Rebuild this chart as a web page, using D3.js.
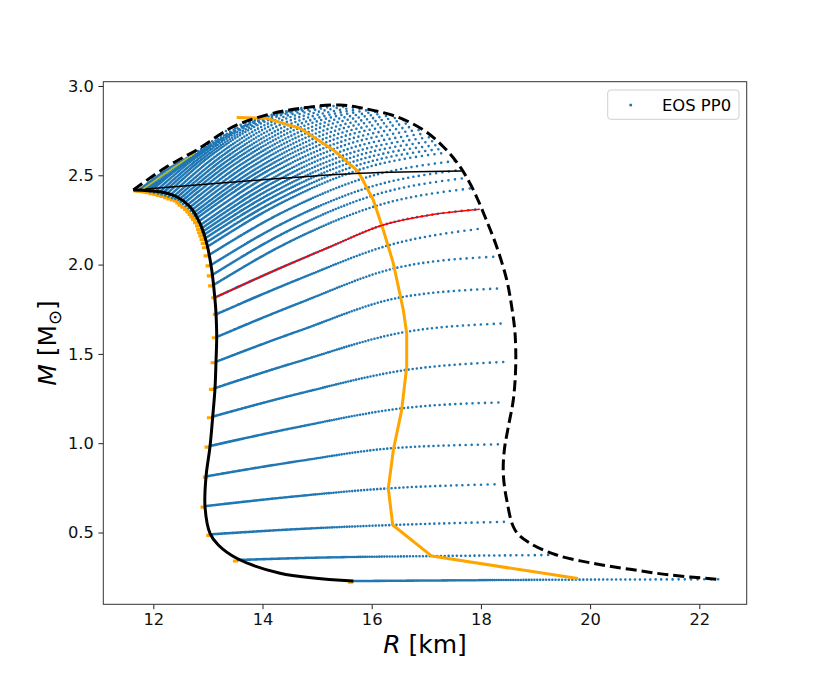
<!DOCTYPE html>
<html>
<head>
<meta charset="utf-8">
<script src="https://cdn.jsdelivr.net/npm/d3@7"></script>
<style>
  body { margin: 0; background: #fff; }
  svg { display: block; }
</style>
</head>
<body>
<div id="chart"></div>
<script>
// Non-rotating sequence (solid black), R [km] and M [Msun]
const nonRotR = [15.663, 14.321, 13.527, 13.190, 13.038, 12.947, 12.965, 13.038, 13.088, 13.130, 13.148, 13.161,
                 13.148, 13.130, 13.070, 12.978, 12.855, 12.672, 12.429, 12.123, 11.634];
const nonRotM = [0.228, 0.272, 0.356, 0.430, 0.495, 0.644, 0.812, 0.980, 1.148, 1.307, 1.456, 1.596,
                 1.727, 1.802, 1.970, 2.119, 2.231, 2.324, 2.380, 2.408, 2.418];

// Mass-shedding (Kepler) limit, dashed black
const keplerR = [11.634, 12.245, 12.795, 13.465, 14.077, 14.687, 15.419, 15.846, 16.458, 16.945, 17.311, 17.617,
                 17.861, 18.075, 18.289, 18.473, 18.564, 18.625, 18.637, 18.593, 18.502, 18.429, 18.410, 18.473,
                 18.625, 18.899, 19.388, 20.059, 20.731, 21.463, 22.348];
const keplerM = [2.418, 2.548, 2.642, 2.772, 2.838, 2.875, 2.894, 2.875, 2.828, 2.754, 2.660, 2.548,
                 2.418, 2.268, 2.100, 1.914, 1.764, 1.615, 1.428, 1.242, 1.092, 0.962, 0.831, 0.682,
                 0.514, 0.440, 0.374, 0.327, 0.294, 0.262, 0.238];

// Orange curve
const orangeR = [13.527, 14.077, 14.687, 15.297, 15.755, 16.029, 16.212, 16.396, 16.579, 16.641, 16.641, 16.549,
                 16.396, 16.304, 16.385, 17.099, 19.778];
const orangeM = [2.823, 2.819, 2.763, 2.642, 2.520, 2.362, 2.194, 2.007, 1.746, 1.615, 1.428, 1.186,
                 0.962, 0.747, 0.542, 0.368, 0.242];

// Red highlighted sequence
const redR = [13.16, 14.38, 15.24, 16.21, 17.07, 17.98];
const redM = [1.82, 1.988, 2.10, 2.222, 2.278, 2.31];

// Thin black line
const thinR = [11.634, 14.226, 15.786, 17.648];
const thinM = [2.418, 2.480, 2.511, 2.524];

// Olive line
const oliveR = [11.788, 12.764];
const oliveM = [2.418, 2.625];

// Rotating sequences (EOS PP0), one row per sequence
const seqR = [
  [15.663, 17.43, 19.78, 22.348],
  [13.557, 14.687, 17.099, 19.388],
  [13.07, 14.687, 16.385, 18.473],
  [12.965, 14.687, 16.304, 18.319],
  [13.007, 14.687, 16.425, 18.381],
  [13.038, 14.687, 16.549, 18.441],
  [13.081, 14.687, 16.628, 18.533],
  [13.117, 14.687, 16.641, 18.473],
  [13.148, 14.687, 16.573, 18.410],
  [13.172, 14.687, 16.445, 18.227],
  [13.19, 14.687, 16.335, 18.044],
  [13.16, 14.38, 15.24, 16.21, 17.07, 17.98],
  [13.103, 14.522, 16.176, 17.831],
  [13.079, 14.473, 16.101, 17.727],
  [13.057, 14.430, 16.033, 17.636],
  [13.020, 14.372, 15.949, 17.526],
  [12.989, 14.311, 15.855, 17.397],
  [12.968, 14.275, 15.800, 17.324],
  [12.947, 14.238, 15.745, 17.251],
  [12.924, 14.198, 15.683, 17.169],
  [12.901, 14.158, 15.621, 17.086],
  [12.883, 14.118, 15.555, 16.995],
  [12.864, 14.077, 15.489, 16.903],
  [12.828, 14.021, 15.411, 16.802],
  [12.791, 13.965, 15.333, 16.701],
  [12.759, 13.909, 15.251, 16.592],
  [12.727, 13.853, 15.168, 16.482],
  [12.686, 13.789, 15.076, 16.363],
  [12.645, 13.725, 14.984, 16.244],
  [12.595, 13.651, 14.883, 16.116],
  [12.544, 13.577, 14.782, 15.987],
  [12.503, 13.508, 14.679, 15.850],
  [12.462, 13.438, 14.575, 15.712],
  [12.402, 13.352, 14.459, 15.566],
  [12.342, 13.266, 14.343, 15.419],
  [12.278, 13.172, 14.214, 15.255],
  [12.214, 13.077, 14.084, 15.090],
  [12.150, 12.977, 13.942, 14.907],
  [12.086, 12.877, 13.800, 14.723],
  [12.013, 12.766, 13.644, 14.522],
  [11.940, 12.654, 13.487, 14.321],
  [11.885, 12.547, 13.320, 14.092],
  [11.830, 12.440, 13.152, 13.863],
  [11.784, 12.339, 12.987, 13.634],
  [11.738, 12.238, 12.822, 13.405]
];
const seqM = [
  [0.228, 0.232, 0.236, 0.238],
  [0.346, 0.357, 0.368, 0.374],
  [0.490, 0.520, 0.542, 0.560],
  [0.648, 0.705, 0.747, 0.770],
  [0.816, 0.901, 0.973, 0.994],
  [0.984, 1.093, 1.195, 1.229],
  [1.148, 1.279, 1.410, 1.456],
  [1.307, 1.460, 1.624, 1.671],
  [1.456, 1.631, 1.819, 1.867],
  [1.596, 1.786, 1.981, 2.044],
  [1.727, 1.921, 2.110, 2.203],
  [1.82, 1.988, 2.10, 2.222, 2.278, 2.31],
  [1.886, 2.132, 2.337, 2.427],
  [1.942, 2.189, 2.394, 2.485],
  [1.998, 2.240, 2.440, 2.530],
  [2.054, 2.293, 2.492, 2.580],
  [2.100, 2.340, 2.539, 2.628],
  [2.124, 2.363, 2.562, 2.650],
  [2.147, 2.386, 2.584, 2.672],
  [2.166, 2.406, 2.605, 2.693],
  [2.184, 2.426, 2.625, 2.714],
  [2.203, 2.446, 2.646, 2.735],
  [2.222, 2.465, 2.667, 2.756],
  [2.241, 2.484, 2.685, 2.775],
  [2.259, 2.502, 2.703, 2.793],
  [2.273, 2.517, 2.718, 2.809],
  [2.287, 2.531, 2.733, 2.824],
  [2.301, 2.545, 2.746, 2.837],
  [2.315, 2.558, 2.759, 2.849],
  [2.327, 2.569, 2.769, 2.859],
  [2.339, 2.580, 2.779, 2.868],
  [2.351, 2.590, 2.787, 2.875],
  [2.362, 2.599, 2.795, 2.882],
  [2.368, 2.605, 2.801, 2.888],
  [2.373, 2.610, 2.806, 2.894],
  [2.380, 2.613, 2.806, 2.893],
  [2.387, 2.616, 2.806, 2.891],
  [2.393, 2.610, 2.796, 2.884],
  [2.398, 2.604, 2.786, 2.877],
  [2.403, 2.596, 2.771, 2.866],
  [2.408, 2.587, 2.756, 2.854],
  [2.412, 2.561, 2.716, 2.835],
  [2.415, 2.535, 2.675, 2.815],
  [2.417, 2.532, 2.656, 2.790],
  [2.418, 2.529, 2.636, 2.765]
];

const xTicks = [12, 14, 16, 18, 20, 22];
const yTicks = [0.5, 1.0, 1.5, 2.0, 2.5, 3.0];
const legendLabel = "EOS PP0";

// Set up dimensions
const width = 830;
const height = 680;
const mLeft = 103.3, mRight = 746.7, mTop = 81.7, mBottom = 604.3;
const font = "'DejaVu Sans', sans-serif";

const svg = d3.select("#chart")
    .append("svg")
    .attr("width", width)
    .attr("height", height);

const x = d3.scaleLinear().domain([11.084, 22.868]).range([mLeft, mRight]);
const y = d3.scaleLinear().domain([0.098, 3.024]).range([mBottom, mTop]);

const zip = (rs, ms) => rs.map((r, i) => [r, ms[i]]);

const lineMono = d3.line().x(d => x(d[0])).y(d => y(d[1])).curve(d3.curveMonotoneX);
const lineCR = d3.line().x(d => x(d[0])).y(d => y(d[1])).curve(d3.curveCatmullRom.alpha(0.5));
const lineLin = d3.line().x(d => x(d[0])).y(d => y(d[1]));

svg.append("defs").append("clipPath").attr("id", "plot")
    .append("rect").attr("x", mLeft).attr("y", mTop)
    .attr("width", mRight - mLeft).attr("height", mBottom - mTop);

const plot = svg.append("g").attr("clip-path", "url(#plot)");

// dots get sparser along each sequence
function dotPattern(node) {
    const L = node.getTotalLength();
    const parts = [];
    let p = 0;
    while (p < L) {
        const gap = 1.1 + 6.2 * Math.pow(p / L, 1.8);
        parts.push(0, gap.toFixed(2));
        p += gap;
    }
    return parts.join(" ");
}

// orange ticks at the start of each sequence
plot.append("g")
    .selectAll("line")
    .data(seqR.map((rs, i) => [rs[0], seqM[i][0]]))
    .join("line")
    .attr("x1", d => x(d[0] - 0.1))
    .attr("x2", d => x(d[0]))
    .attr("y1", d => y(d[1]) + 1)
    .attr("y2", d => y(d[1]) + 1)
    .attr("stroke", "orange")
    .attr("stroke-width", 3.2);

// rotating sequences as dotted paths
plot.append("g")
    .selectAll("path")
    .data(seqR.map((rs, i) => zip(rs, seqM[i])))
    .join("path")
    .attr("d", lineMono)
    .attr("fill", "none")
    .attr("stroke", "#1f77b4")
    .attr("stroke-width", 2.6)
    .attr("stroke-linecap", "round")
    .each(function () { d3.select(this).attr("stroke-dasharray", dotPattern(this)); });

// orange curve
plot.append("path")
    .attr("d", lineLin(zip(orangeR, orangeM)))
    .attr("fill", "none")
    .attr("stroke", "orange")
    .attr("stroke-width", 3)
    .attr("stroke-linejoin", "round");

// red sequence
plot.append("path")
    .attr("d", lineMono(zip(redR, redM)))
    .attr("fill", "none")
    .attr("stroke", "red")
    .attr("stroke-width", 1.5);

// thin black line
plot.append("path")
    .attr("d", lineMono(zip(thinR, thinM)))
    .attr("fill", "none")
    .attr("stroke", "black")
    .attr("stroke-width", 1.5);

// olive line
plot.append("path")
    .attr("d", lineLin(zip(oliveR, oliveM)))
    .attr("fill", "none")
    .attr("stroke", "#bcbd22")
    .attr("stroke-width", 1.6);

// non-rotating curve
plot.append("path")
    .attr("d", lineCR(zip(nonRotR, nonRotM)))
    .attr("fill", "none")
    .attr("stroke", "black")
    .attr("stroke-width", 3)
    .attr("stroke-linejoin", "round");

// Kepler limit
plot.append("path")
    .attr("d", lineCR(zip(keplerR, keplerM)))
    .attr("fill", "none")
    .attr("stroke", "black")
    .attr("stroke-width", 3)
    .attr("stroke-dasharray", "11,5");

// Axes
const xAxis = svg.append("g")
    .attr("transform", `translate(0,${mBottom})`)
    .call(d3.axisBottom(x).tickValues(xTicks).tickFormat(d3.format("d")).tickSize(4.9).tickPadding(4.5));
const yAxis = svg.append("g")
    .attr("transform", `translate(${mLeft},0)`)
    .call(d3.axisLeft(y).tickValues(yTicks).tickFormat(d3.format(".1f")).tickSize(4.9).tickPadding(4.5));

[xAxis, yAxis].forEach(g => {
    g.select(".domain").remove();
    g.selectAll("line").attr("stroke", "#222").attr("stroke-width", 1);
    g.selectAll("text").attr("font-family", font).attr("font-size", "16.3px").attr("fill", "#111");
});

// frame
svg.append("rect")
    .attr("x", mLeft).attr("y", mTop)
    .attr("width", mRight - mLeft).attr("height", mBottom - mTop)
    .attr("fill", "none")
    .attr("stroke", "#333")
    .attr("stroke-width", 1);

// Axis labels
const xl = svg.append("text")
    .attr("x", (mLeft + mRight) / 2).attr("y", 653)
    .attr("text-anchor", "middle")
    .attr("font-family", font).attr("font-size", "25px");
xl.append("tspan").attr("font-style", "italic").text("R");
xl.append("tspan").text(" [km]");

const yl = svg.append("text")
    .attr("transform", `translate(56,${(mTop + mBottom) / 2}) rotate(-90)`)
    .attr("text-anchor", "middle")
    .attr("font-family", font).attr("font-size", "25px");
yl.append("tspan").attr("font-style", "italic").text("M");
yl.append("tspan").text(" [M");
yl.append("tspan").attr("font-size", "18px").attr("dy", 4.5).text("⊙");
yl.append("tspan").attr("dy", -4.5).text("]");

// Legend
const lg = svg.append("g");
lg.append("rect")
    .attr("x", 607.7).attr("y", 90)
    .attr("width", 131.3).attr("height", 29.3)
    .attr("rx", 3)
    .attr("fill", "white").attr("fill-opacity", 0.8)
    .attr("stroke", "#d0d0d0").attr("stroke-width", 1);
lg.append("circle")
    .attr("cx", 630.7).attr("cy", 105)
    .attr("r", 1.5)
    .attr("fill", "#1f77b4");
lg.append("text")
    .attr("x", 662).attr("y", 110.8)
    .attr("font-family", font).attr("font-size", "16.4px")
    .text(legendLabel);
</script>
</body>
</html>
